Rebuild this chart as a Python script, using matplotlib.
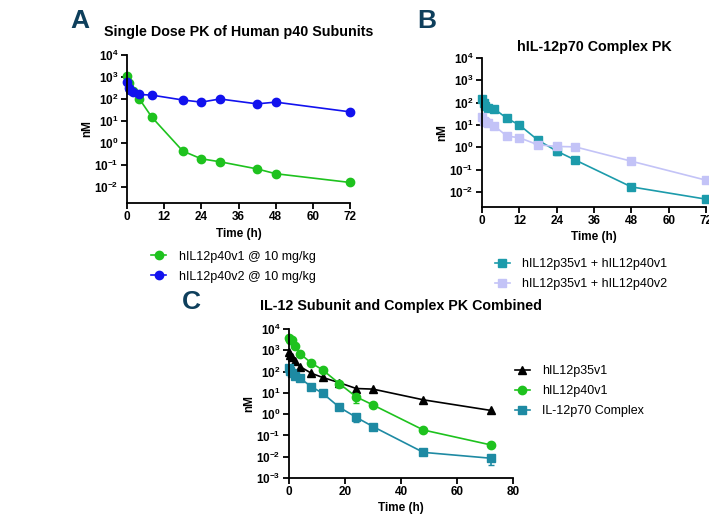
import numpy as np
import matplotlib.pyplot as plt
from matplotlib.ticker import FixedLocator, FuncFormatter, NullLocator

plt.rcParams['font.family'] = ['Liberation Sans', 'DejaVu Sans']
plt.rcParams['mathtext.fontset'] = 'custom'
plt.rcParams['mathtext.bf'] = 'Liberation Sans:bold'
plt.rcParams['mathtext.rm'] = 'Liberation Sans'

# panel A - single dose p40 subunits
t_a = [0.083, 0.5, 1, 2, 4, 8, 18, 24, 30, 42, 48, 72]
p40v1_a = [1100, 540, 250, 230, 100, 15, 0.43, 0.19, 0.14, 0.066, 0.04, 0.016]
p40v2_a = [600, 300, 250, 210, 160, 150, 90, 72, 100, 60, 72, 26]

# panel B - p70 complex
t_b = [0.083, 0.5, 1, 2, 4, 8, 12, 18, 24, 30, 48, 72]
cplx_v1_b = [150, 100, 70, 60, 52, 20, 10, 2.1, 0.68, 0.27, 0.017, 0.0048]
cplx_v1_b_err = [0, 0, 0, 0, 0, 0, 0, 0, 0.23, 0, 0.004, 0.001]
cplx_v2_b = [22, 15, 13, 12, 9, 3.2, 2.7, 1.3, 1.1, 1.05, 0.24, 0.034]

# panel C - combined
t_c = [0.083, 0.5, 1, 2, 4, 8, 12, 18, 24, 30, 48, 72]
p35v1_c = [870, 600, 500, 315, 170, 83, 53, 30, 16, 15, 4.7, 1.5]
p40v1_c = [3800, 3200, 3000, 1600, 680, 250, 120, 27, 6.5, 2.7, 0.18, 0.036]
p40v1_c_err = [0, 0, 0, 0, 0, 0, 0, 3, 3.3, 0, 0, 0]
p70_c = [140, 110, 89, 62, 48, 19.5, 9.6, 2.1, 0.71, 0.26, 0.016, 0.0085]
p70_c_err = [0, 0, 0, 0, 0, 0, 0, 0, 0.26, 0, 0.003, 0.0045]

green = '#1ec21e'
blue = '#1212ee'
teal = '#1c9bab'
lav = '#c3c3f7'
teal_c = '#1e8aa3'
letter_col = '#0e3f5c'

fig = plt.figure(figsize=(7.09, 5.17), dpi=100)
W, H = 709, 517


def make_ax(x0, x1, ytop, ybot):
    return fig.add_axes([x0 / W, 1 - ybot / H, (x1 - x0) / W, (ybot - ytop) / H])


def style(ax, exps, xticks, xlim, ylim):
    ax.set_yscale('log')
    ax.set_xlim(xlim)
    ax.set_ylim(ylim)
    ax.yaxis.set_major_locator(FixedLocator([10.0 ** e for e in exps]))
    ax.yaxis.set_minor_locator(NullLocator())
    ax.yaxis.set_major_formatter(FuncFormatter(
        lambda v, p: r'$\mathbf{10^{%d}}$' % int(round(np.log10(v)))))
    ax.set_xticks(xticks)
    ax.set_xticklabels([str(x) for x in xticks], fontweight='bold')
    for s in ['top', 'right']:
        ax.spines[s].set_visible(False)
    for s in ['left', 'bottom']:
        ax.spines[s].set_linewidth(1.3)
    ax.tick_params(axis='both', direction='out', width=1.3, length=4, labelsize=8.5, pad=2)
    ax.set_xlabel('Time (h)', fontsize=8.5, fontweight='bold', labelpad=3)
    ax.set_ylabel('nM', fontsize=8.5, fontweight='bold', labelpad=1)


def lower_err(ax, t, y, err, color):
    ax.errorbar(t, y, yerr=[err, [0] * len(t)], fmt='none', ecolor=color,
                lw=1.2, capsize=2.5, clip_on=False)


leg_kw = dict(frameon=False, fontsize=9, handlelength=1.2, handletextpad=1.0,
              labelspacing=0.65, borderpad=0)

# A
ax = make_ax(127, 350, 55, 203)
ax.plot(t_a, p40v1_a, '-o', color=green, ms=6, lw=1.2, label='hIL12p40v1 @ 10 mg/kg', clip_on=False)
ax.plot(t_a, p40v2_a, '-o', color=blue, ms=6, lw=1.2, label='hIL12p40v2 @ 10 mg/kg', clip_on=False)
style(ax, range(-2, 5), [0, 12, 24, 36, 48, 60, 72], (0, 72), (10 ** -2.73, 1e4))
ax.set_title('Single Dose PK of Human p40 Subunits', fontsize=10.3, fontweight='bold', pad=14)
ax.legend(loc='upper left', bbox_to_anchor=(0.08, -0.28), **leg_kw)

# B
ax = make_ax(482, 706, 58, 207)
lower_err(ax, t_b, cplx_v1_b, cplx_v1_b_err, teal)
ax.plot(t_b, cplx_v1_b, '-s', color=teal, ms=6, lw=1.2, label='hIL12p35v1 + hIL12p40v1', clip_on=False)
ax.plot(t_b, cplx_v2_b, '-s', color=lav, ms=6, lw=1.2, label='hIL12p35v1 + hIL12p40v2', clip_on=False)
style(ax, range(-2, 5), [0, 12, 24, 36, 48, 60, 72], (0, 72), (10 ** -2.67, 1e4))
ax.set_title('hIL-12p70 Complex PK', fontsize=10.3, fontweight='bold', pad=5)
ax.legend(loc='upper left', bbox_to_anchor=(0.03, -0.3), **leg_kw)

# C
ax = make_ax(289, 513, 329, 478)
lower_err(ax, t_c, p40v1_c, p40v1_c_err, green)
lower_err(ax, t_c, p70_c, p70_c_err, teal_c)
ax.plot(t_c, p35v1_c, '-^', color='black', ms=6, lw=1.2, label='hIL12p35v1', clip_on=False)
ax.plot(t_c, p40v1_c, '-o', color=green, ms=6, lw=1.2, label='hIL12p40v1', clip_on=False)
ax.plot(t_c, p70_c, '-s', color=teal_c, ms=6, lw=1.2, label='IL-12p70 Complex', clip_on=False)
style(ax, range(-3, 5), [0, 20, 40, 60, 80], (0, 80), (1e-3, 1e4))
ax.set_title('IL-12 Subunit and Complex PK Combined', fontsize=10.3, fontweight='bold', pad=14)
ax.legend(loc='upper left', bbox_to_anchor=(0.98, 0.8), **leg_kw)

# panel letters
fig.text(70 / W, 1 - 28 / H, 'A', fontsize=19, fontweight='bold', color=letter_col)
fig.text(417 / W, 1 - 28 / H, 'B', fontsize=19, fontweight='bold', color=letter_col)
fig.text(182 / W, 1 - 309 / H, 'C', fontsize=19, fontweight='bold', color=letter_col)

fig.savefig('out.png', dpi=100)
